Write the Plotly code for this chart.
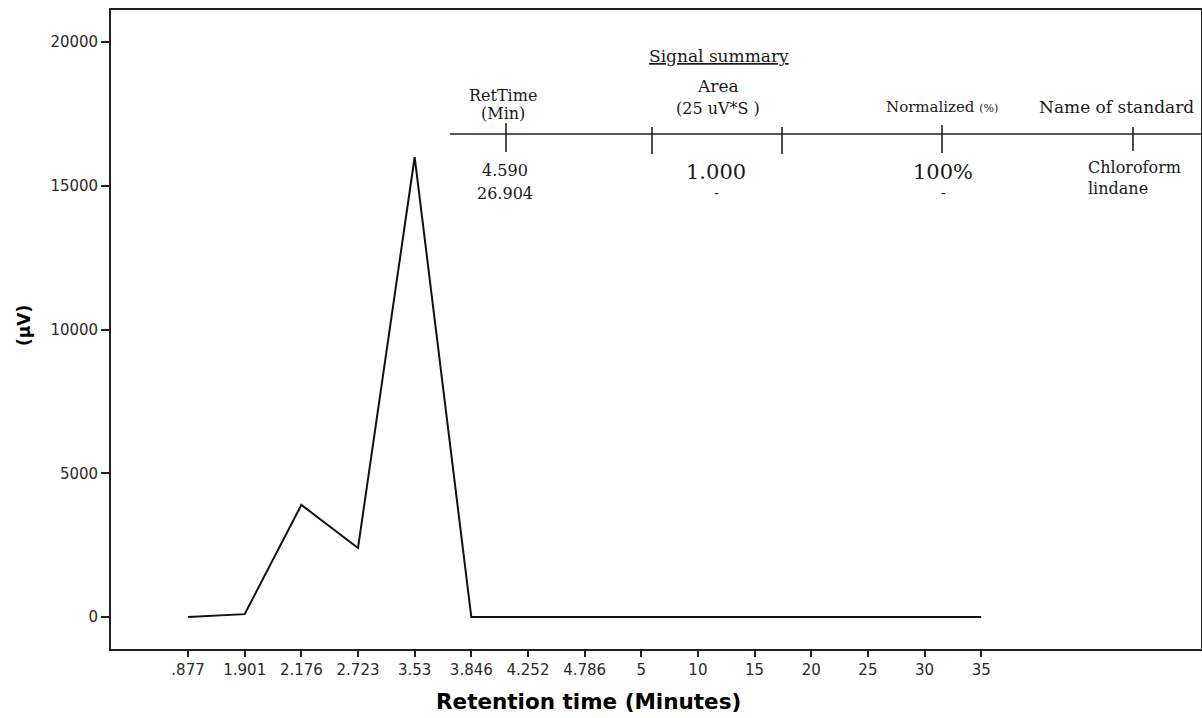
import plotly.graph_objects as go

categories = [".877", "1.901", "2.176", "2.723", "3.53", "3.846", "4.252", "4.786",
              "5", "10", "15", "20", "25", "30", "35"]
signal_uv = [0, 100, 3900, 2400, 16000, 0, 0, 0, 0, 0, 0, 0, 0, 0, 0]
y_ticks = [0, 5000, 10000, 15000, 20000]

W, H = 1202, 718
L, R, T, B = 111, 1201, 10, 649


def px(x):
    return (x - L) / (R - L)


def py(y):
    return (B - y) / (B - T)


fig = go.Figure()
fig.add_trace(go.Scatter(x=categories, y=signal_uv, mode="lines",
                         line=dict(color="#111111", width=2), showlegend=False,
                         hoverinfo="skip"))

serif = "DejaVu Serif, Liberation Serif, serif"
sans = "DejaVu Sans, Liberation Sans, sans-serif"

annotations = []


def txt(x, y, s, size=17, family=serif, xanchor="center", color="#1a1a1a"):
    annotations.append(dict(x=px(x), y=py(y), xref="paper", yref="paper", text=s,
                            showarrow=False, xanchor=xanchor, yanchor="middle",
                            font=dict(family=family, size=size, color=color)))


txt(719, 56, "<u>Signal summary</u>", 17)
txt(503, 95, "RetTime", 16)
txt(503, 113, "(Min)", 16)
txt(718, 86, "Area", 17)
txt(718, 108, "(25 uV*S )", 16)
txt(942, 107, "Normalized <span style='font-size:11px'>(%)</span>", 15)
txt(1116, 107, "Name of standard", 17)
txt(505, 171, "4.590", 16)
txt(505, 193, "26.904", 16)
txt(716, 172, "1.000", 21)
txt(716, 193, "-", 14)
txt(943, 172, "100%", 21)
txt(943, 193, "-", 14)
txt(1086, 167, "Chloroform", 16, xanchor="left")
txt(1086, 188, "lindane", 16, xanchor="left")

txt(588, 701, "<b>Retention time (Minutes)</b>", 21.5, family=sans, color="#000")
annotations.append(dict(x=px(24), y=py(326), xref="paper", yref="paper",
                        text="<b>(µV)</b>", showarrow=False, textangle=-90,
                        xanchor="center", yanchor="middle",
                        font=dict(family=sans, size=17, color="#000")))

shapes = []


def seg(x0, y0, x1, y1, w=1.6):
    shapes.append(dict(type="line", xref="paper", yref="paper",
                       x0=px(x0), y0=py(y0), x1=px(x1), y1=py(y1),
                       line=dict(color="#222222", width=w)))


seg(450, 134, 1201, 134)
seg(506, 123, 506, 152)
seg(652, 127, 652, 154)
seg(782, 127, 782, 154)
seg(942, 125, 942, 153)
seg(1133, 127, 1133, 151)

fig.update_layout(
    width=W, height=H,
    margin=dict(l=L, r=W - R, t=T, b=H - B, autoexpand=False),
    paper_bgcolor="white", plot_bgcolor="white",
    annotations=annotations, shapes=shapes,
    xaxis=dict(type="category", range=[-1.36, 17.88], showline=True, mirror=True,
               linecolor="#222", linewidth=1.8, ticks="outside", ticklen=6,
               tickcolor="#222", tickwidth=1.5, showgrid=False, zeroline=False,
               automargin=False,
               tickfont=dict(family=sans, size=15, color="#2a2a2a")),
    yaxis=dict(range=[-1113, 21113], tickvals=y_ticks, tickformat="d",
               showline=True, mirror=True,
               linecolor="#222", linewidth=1.8, ticks="outside", ticklen=8,
               tickcolor="#222", tickwidth=1.5, showgrid=False, zeroline=False,
               automargin=False,
               tickfont=dict(family=sans, size=15, color="#2a2a2a")),
)

fig.write_html("out.html", config={"displayModeBar": False},
               post_script="document.body.style.margin='0';")
